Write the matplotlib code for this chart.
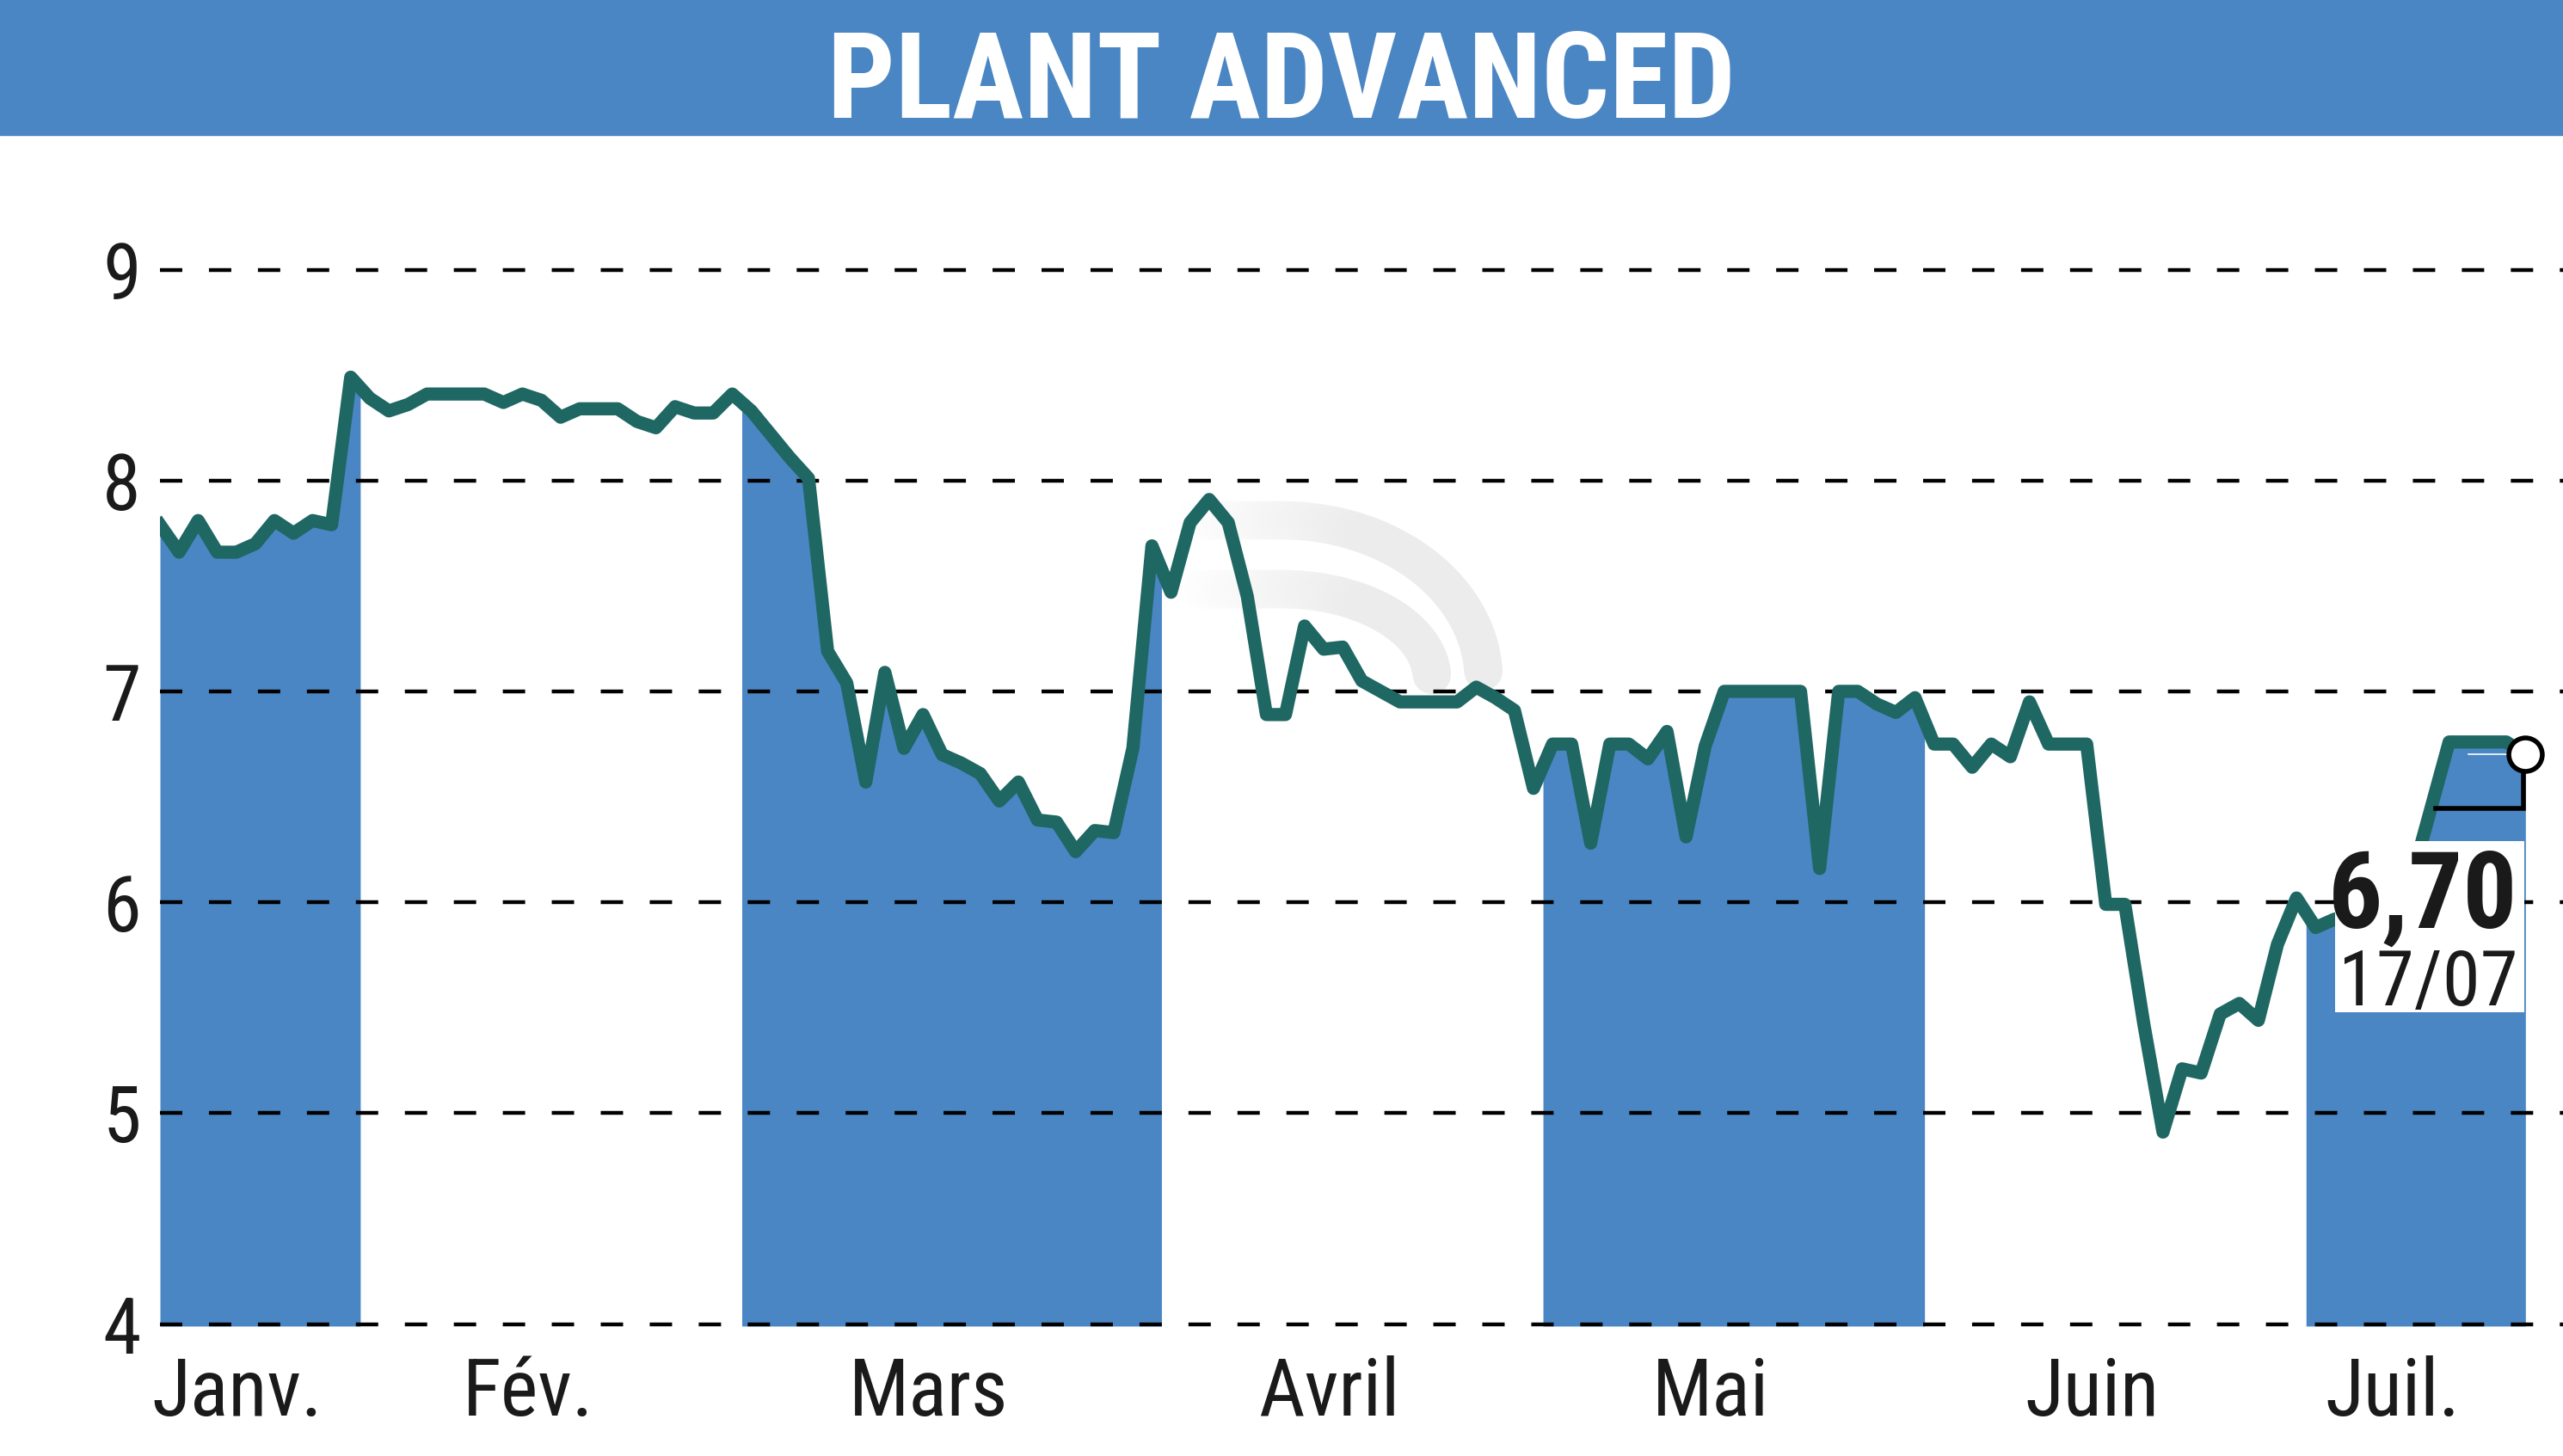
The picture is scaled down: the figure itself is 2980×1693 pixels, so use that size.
import numpy as np
import matplotlib
matplotlib.use("Agg")
import matplotlib.pyplot as plt
from matplotlib import font_manager
from matplotlib.patches import Rectangle
from matplotlib.collections import LineCollection
import matplotlib.transforms as mtransforms

# ---- data ----
title = "PLANT ADVANCED"
months = ["Janv.", "Fév.", "Mars", "Avril", "Mai", "Juin", "Juil."]
days_per_month = [11, 20, 22, 20, 20, 20, 12]
shaded = [True, False, True, False, True, False, True]
yticks = [4, 5, 6, 7, 8, 9]

jan = [7.79, 7.66, 7.81, 7.66, 7.66, 7.70, 7.81, 7.75, 7.81, 7.79, 8.49]
feb = [8.39, 8.33, 8.36, 8.41, 8.41, 8.41, 8.41, 8.37, 8.41, 8.38,
       8.30, 8.34, 8.34, 8.34, 8.28, 8.25, 8.35, 8.32, 8.32, 8.41]
mar = [8.33, 8.22, 8.11, 8.01, 7.19, 7.04, 6.57, 7.09, 6.73, 6.89, 6.70,
       6.66, 6.61, 6.48, 6.57, 6.39, 6.38, 6.24, 6.34, 6.33, 6.73, 7.69]
apr = [7.47, 7.80, 7.91, 7.80, 7.45, 6.89, 6.89, 7.31, 7.20, 7.21,
       7.05, 7.00, 6.95, 6.95, 6.95, 6.95, 7.02, 6.97, 6.91, 6.54]
may = [6.75, 6.75, 6.28, 6.75, 6.75, 6.68, 6.81, 6.31, 6.74, 7.00,
       7.00, 7.00, 7.00, 7.00, 6.16, 7.00, 7.00, 6.94, 6.90, 6.97]
jun = [6.75, 6.75, 6.64, 6.75, 6.69, 6.95, 6.75, 6.75, 6.75, 5.99,
       5.99, 5.42, 4.91, 5.21, 5.19, 5.47, 5.52, 5.44, 5.80, 6.02]
jul = [5.88, 5.92, 5.93, 5.97, 6.02, 6.10, 6.43, 6.76, 6.76, 6.76, 6.76, 6.70]

last_label = "6,70"
last_date = "17/07"

# ---- styles ----
blue = "#4a86c3"
teal = "#1f6763"
ink = "#1a1a1a"

installed = {f.name for f in font_manager.fontManager.ttflist}
narrow = next((n for n in ["Liberation Sans Narrow", "Roboto Condensed",
                           "Open Sans Condensed", "DejaVu Sans Condensed"]
               if n in installed), "Liberation Sans")
plt.rcParams["font.family"] = [narrow, "DejaVu Sans"]
plt.rcParams["lines.scale_dashes"] = False

close = np.array(jan + feb + mar + apr + may + jun + jul)
idx = np.arange(len(close))
last = idx[-1]

W, H = 2980, 1693
x0_px, step_px = 186, 22.18
y4_px, unit_px = 1539.5, 245.2
ylo, yhi = 3.95, 9.2

fig = plt.figure(figsize=(W / 100, H / 100), dpi=100)

# title band
band_h = 157
fig.patches.append(Rectangle((0, 1 - band_h / H), 1, band_h / H,
                             transform=fig.transFigure, color=blue, zorder=0))
fig.text(0.5, 1 - 137 / H, title, ha="center", va="baseline", color="white",
         fontsize=100, fontweight="bold")

bottom_px = y4_px + (4 - ylo) * unit_px
top_px = y4_px - (yhi - 4) * unit_px
ax = fig.add_axes([x0_px / W, (H - bottom_px) / H, 1 - x0_px / W,
                   (bottom_px - top_px) / H])
ax.set_xlim(0, (W - x0_px) / step_px)
ax.set_ylim(ylo, yhi)
for s in ax.spines.values():
    s.set_visible(False)
ax.set_xticks([])
ax.set_yticks(yticks)
ax.set_yticklabels([str(v) for v in yticks])
ax.tick_params(axis="y", length=0, pad=16, labelsize=65, labelcolor=ink)

# faint watermark arcs, fading in from the left
px = mtransforms.Affine2D().scale(1 / W, -1 / H).translate(0, 1) + fig.transFigure
for a, b in [(235, 185), (175, 105)]:
    cx, cy = 1490, 790
    t = np.linspace(-np.pi / 2, -0.05, 60)
    xs = np.r_[np.linspace(1370, cx, 25), (cx + a * np.cos(t))[1:]]
    ys = np.r_[np.full(25, cy - b), (cy + b * np.sin(t))[1:]]
    pts = np.column_stack([xs, ys])
    segs = np.stack([pts[:-1], pts[1:]], axis=1)
    f = np.clip((xs[:-1] - 1370) / 220, 0, 1)
    g = 1 - 0.08 * f
    cols = np.column_stack([g, g + 0.004, g])
    ax.add_collection(LineCollection(segs, colors=np.clip(cols, 0, 1), linewidths=32,
                                     capstyle="round", transform=px, zorder=0.5))

# month bands filled under the line
ends = np.cumsum(days_per_month)
starts = ends - np.array(days_per_month)
for lo, hi, sh in zip(starts, ends, shaded):
    if not sh:
        continue
    a = max(lo - 0.5, 0)
    b = min(hi - 0.5, last)
    xs = np.linspace(a, b, 400)
    ax.fill_between(xs, 3.99, np.interp(xs, idx, close), color=blue, lw=0, zorder=1)

for y in yticks:
    ax.axhline(y, color="black", lw=3.2, dashes=(18.7, 22.3), zorder=2)

ax.plot(idx, close, color=teal, lw=11, solid_joinstyle="round", zorder=3)

# month labels
base_y = 4 - (1646 - y4_px) / unit_px
for name, lo, hi in zip(months, starts, ends):
    c = (max(lo - 0.5, 0) + min(hi - 0.5, last)) / 2 - 1.2
    ax.text(c, base_y, name, ha="center", va="baseline", fontsize=67,
            color=ink, clip_on=False)

# last value box
ax.add_patch(Rectangle((114.0, 5.48), 9.95, 0.81, facecolor="white",
                       edgecolor="none", zorder=4))
ax.text(123.6, 5.878, last_label, ha="right", va="baseline", fontsize=90,
        fontweight="bold", color=ink, zorder=5)
ax.text(123.6, 5.511, last_date, ha="right", va="baseline", fontsize=64,
        color=ink, zorder=5)
ax.plot([last - 3.0, last - 0.8], [close[-1], close[-1]], color="white",
        lw=1.2, zorder=4)
ax.plot([last - 4.7, last - 0.1, last - 0.1], [6.445, 6.445, close[-1]],
        color="black", lw=4, solid_joinstyle="miter", zorder=5)
ax.plot([last], [close[-1]], "o", ms=28, mfc="white", mec="black", mew=4,
        zorder=6)

fig.savefig("out.png", dpi=100)
